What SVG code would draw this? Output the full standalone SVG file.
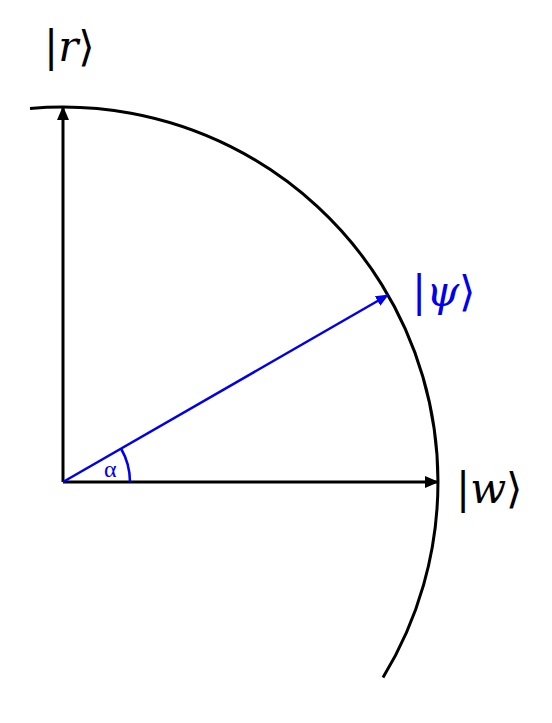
<svg xmlns="http://www.w3.org/2000/svg" width="552" height="723" viewBox="0 0 552 723">
<style>
.lab{font-family:"DejaVu Serif","Liberation Serif",serif;font-size:42px}
.it{font-style:italic}
</style>
<defs>
<marker id="ab" markerWidth="14" markerHeight="12" refX="13" refY="6" orient="auto" markerUnits="userSpaceOnUse">
<path d="M0,0 L14,6 L0,12 Z" fill="#000"/>
</marker>
<marker id="abl" markerWidth="13" markerHeight="11" refX="12" refY="5.5" orient="auto" markerUnits="userSpaceOnUse">
<path d="M0,0 L13,5.5 L0,11 Z" fill="#0000ee"/>
</marker>
</defs>
<rect width="552" height="723" fill="#fff"/>
<g id="circle">
<path d="M30,108.5 A375,375 0 0 1 383,677.5" fill="none" stroke="#000" stroke-width="3"/>
</g>
<g id="connectors">
<line x1="63" y1="482" x2="63" y2="107" stroke="#000" stroke-width="3" marker-end="url(#ab)"/>
<line x1="63" y1="482" x2="438" y2="482" stroke="#000" stroke-width="3" marker-end="url(#ab)"/>
<line x1="63" y1="482" x2="388" y2="295" stroke="#0000ee" stroke-width="2.5" marker-end="url(#abl)"/>
<path d="M130,482 A67,67 0 0 0 121,448.5" fill="none" stroke="#0000ee" stroke-width="2.5"/>
</g>
<g id="r">
<text class="lab" x="44" y="61">|<tspan class="it">r</tspan>⟩</text>
</g>
<g id="psi">
<text class="lab" x="412" y="306" fill="#0000ee">|<tspan class="it">ψ</tspan>⟩</text>
</g>
<g id="w">
<text class="lab" x="456" y="503">|<tspan class="it">w</tspan>⟩</text>
</g>
<g id="alpha">
<text x="104" y="477" font-family="Liberation Serif,serif" font-size="24" fill="#0000ee">α</text>
</g>
</svg>
